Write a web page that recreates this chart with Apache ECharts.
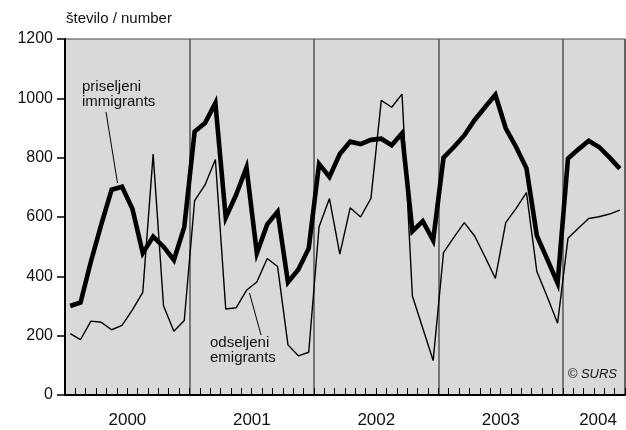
<!DOCTYPE html>
<html>
<head>
<meta charset="utf-8">
<script src="https://cdn.jsdelivr.net/npm/echarts@6/dist/echarts.min.js"></script>
<style>
html,body{margin:0;padding:0;background:#fff;}
#chart{width:626px;height:430px;}
</style>
</head>
<body>
<div id="chart"></div>
<script>
const years = ['2000', '2001', '2002', '2003', '2004'];
const monthsPerYear = [12, 12, 12, 12, 6];
const yTicks = [0, 200, 400, 600, 800, 1000, 1200];

// priseljeni / immigrants (monthly)
const immigrants = [
  300, 312, 450, 575, 692, 702, 628, 478, 534, 500, 455, 566,
  888, 917, 984, 598, 675, 767, 478, 575, 618, 380, 423, 494,
  779, 735, 812, 854, 846, 860, 864, 842, 882, 552, 586, 521,
  800, 836, 875, 927, 970, 1012, 899, 836, 764, 537, 458, 377,
  797, 828, 857, 836, 801, 763
];
// odseljeni / emigrants (monthly)
const emigrants = [
  207, 187, 249, 245, 220, 235, 287, 346, 812, 301, 215, 251,
  655, 708, 794, 290, 294, 353, 381, 460, 433, 169, 132, 144,
  567, 662, 475, 631, 600, 663, 993, 970, 1014, 334, 225, 116,
  480, 531, 581, 536, 466, 393, 581, 629, 682, 416, 331, 242,
  528, 562, 595, 601, 610, 623
];

const categories = [];
const labelAt = {};
years.forEach((y, yi) => {
  const start = categories.length;
  for (let m = 1; m <= monthsPerYear[yi]; m++) categories.push(y + '-' + (m < 10 ? '0' + m : m));
  labelAt[start + Math.floor(monthsPerYear[yi] / 2)] = y;
});
const yearStarts = {};
{ let s = 0; monthsPerYear.forEach(n => { yearStarts[s] = true; s += n; }); }

const FONT = '"Liberation Sans", Arial, Helvetica, sans-serif';
const chart = echarts.init(document.getElementById('chart'), null, {renderer: 'canvas'});
chart.setOption({
  animation: false,
  backgroundColor: '#ffffff',
  title: {
    text: 'število / number',
    left: 61, top: 6,
    textStyle: {fontFamily: FONT, fontSize: 15, fontWeight: 'normal', color: '#111'}
  },
  grid: {
    left: 65, right: 1, top: 39, bottom: 35,
    show: true, backgroundColor: '#d9d9d9', borderColor: '#444', borderWidth: 1
  },
  xAxis: {
    type: 'category',
    data: categories,
    boundaryGap: true,
    axisLine: {lineStyle: {color: '#000', width: 2}},
    axisTick: {show: true, inside: true, length: 7, interval: 0, lineStyle: {color: '#000', width: 1}},
    splitLine: {
      show: true,
      interval: function (index) { return index > 0 && !!yearStarts[index]; },
      lineStyle: {color: '#555', width: 1.5}
    },
    axisLabel: {
      interval: function (index) { return labelAt[index] !== undefined; },
      formatter: function (value, index) {
        const y = labelAt[index];
        if (!y) return '';
        return y === '2004' ? '{b|' + y + '}' : '{a|' + y + '}';
      },
      margin: 17,
      rich: {
        a: {fontFamily: FONT, fontSize: 17, color: '#111', padding: [0, 10, 0, 0]},
        b: {fontFamily: FONT, fontSize: 17, color: '#111', padding: [0, 2, 0, 0]}
      }
    }
  },
  yAxis: {
    type: 'value',
    min: yTicks[0], max: yTicks[yTicks.length - 1], interval: 200,
    axisLine: {show: true, lineStyle: {color: '#000', width: 2}},
    axisTick: {show: true, length: 8, lineStyle: {color: '#000', width: 1.5}},
    splitLine: {show: false},
    axisLabel: {fontFamily: FONT, fontSize: 16, color: '#111', margin: 12,
      formatter: function (v) { return String(v); }}
  },
  series: [
    {
      name: 'odseljeni / emigrants',
      type: 'line',
      data: emigrants,
      symbol: 'none',
      lineStyle: {color: '#000', width: 1.4},
      z: 3
    },
    {
      name: 'priseljeni / immigrants',
      type: 'line',
      data: immigrants,
      symbol: 'none',
      lineStyle: {color: '#000', width: 4.6, join: 'miter'},
      z: 4
    }
  ],
  graphic: [
    {type: 'text', left: 82, top: 79, z: 10,
      style: {text: 'priseljeni\nimmigrants', font: '15px ' + FONT, fill: '#111', lineHeight: 15}},
    {type: 'line', z: 10, shape: {x1: 106, y1: 112, x2: 117.5, y2: 183}, style: {stroke: '#000', lineWidth: 1}},
    {type: 'text', left: 210, top: 335, z: 10,
      style: {text: 'odseljeni\nemigrants', font: '15px ' + FONT, fill: '#111', lineHeight: 15}},
    {type: 'line', z: 10, shape: {x1: 249.5, y1: 293, x2: 261, y2: 335}, style: {stroke: '#000', lineWidth: 1}},
    {type: 'text', right: 9, top: 368, z: 10,
      style: {text: '© SURS', font: 'italic 13px ' + FONT, fill: '#111'}}
  ]
});
</script>
</body>
</html>
